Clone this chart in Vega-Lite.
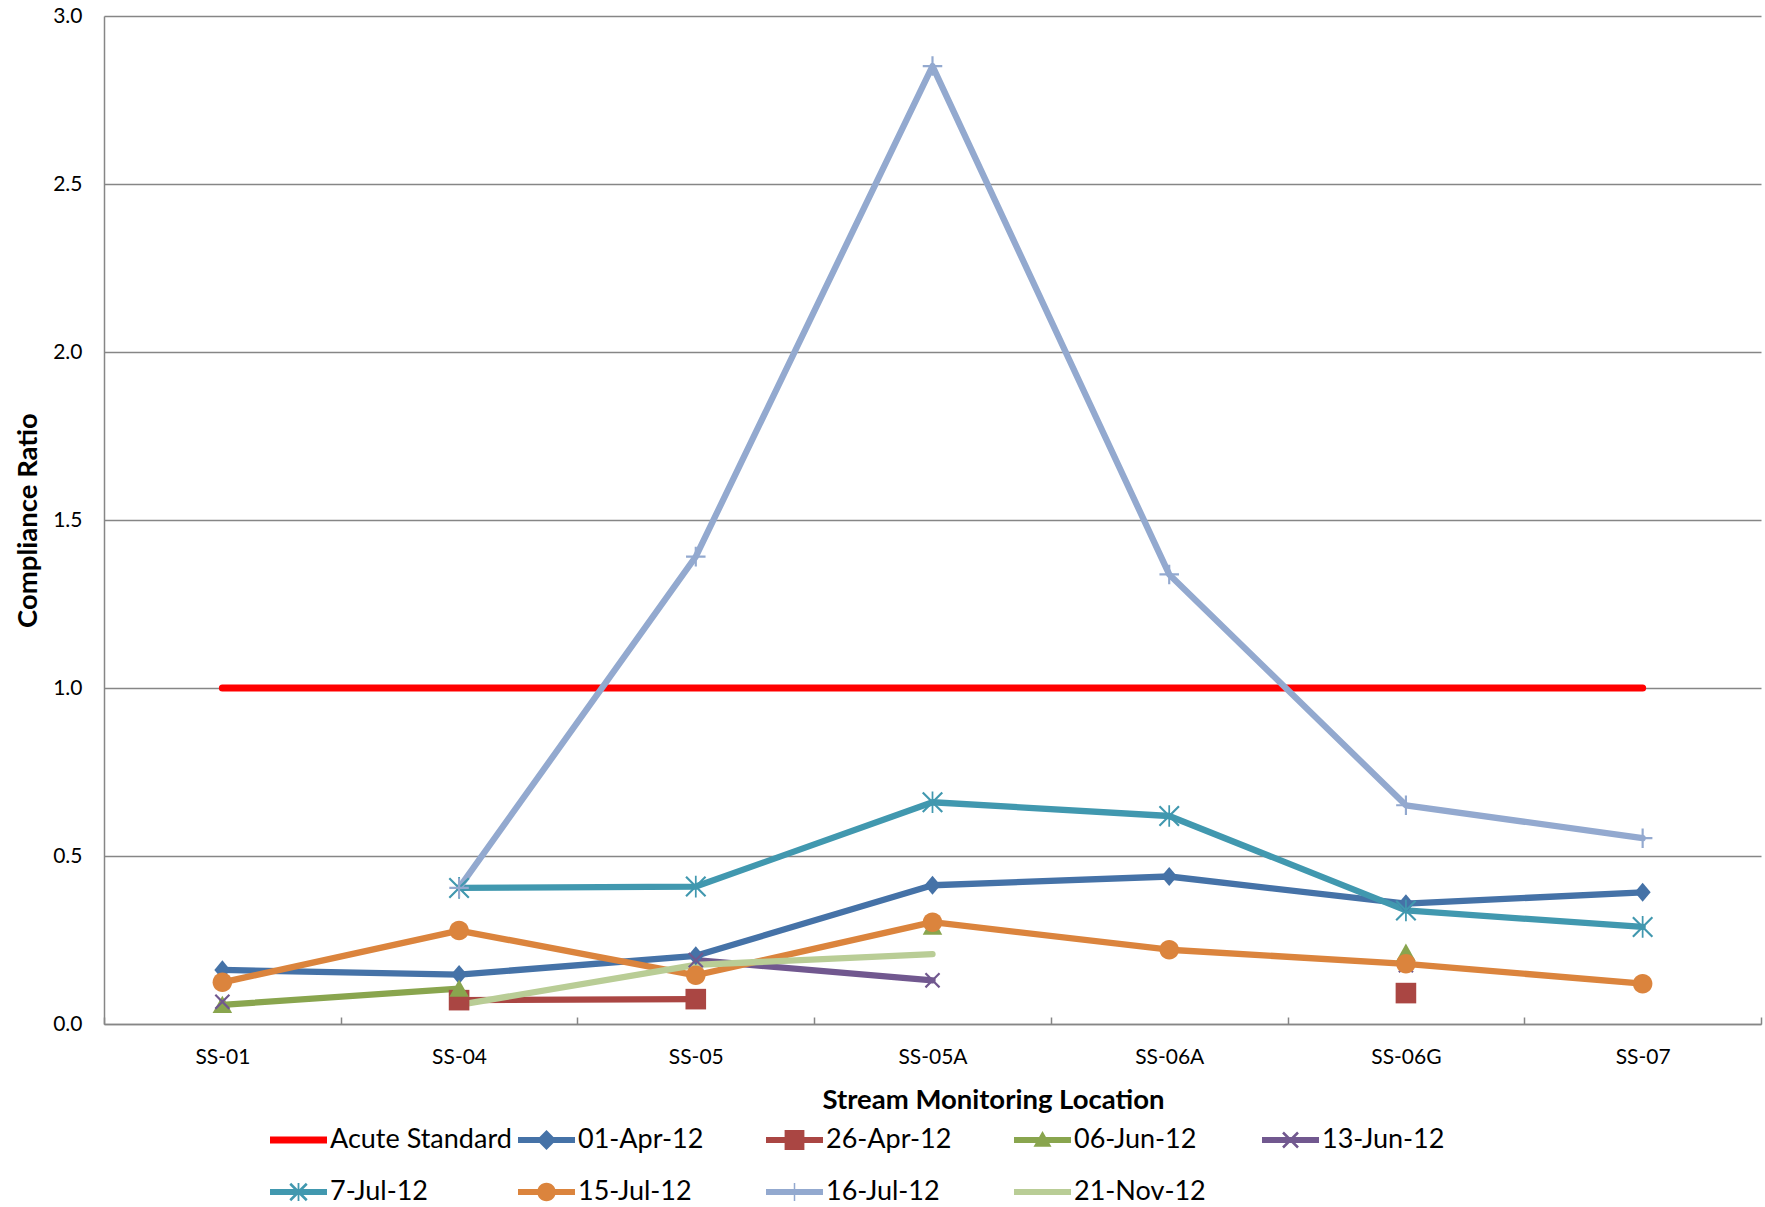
{
  "$schema": "https://vega.github.io/schema/vega-lite/v6.json",
  "width": 1657,
  "height": 1008,
  "autosize": {"type": "none"},
  "padding": {"left": 104, "top": 16, "right": 4, "bottom": 183},
  "background": "white",
  "config": {
    "view": {"stroke": null},
    "font": "Lato"
  },
  "data": {
    "values": [
      {"series": "Acute Standard", "location": "SS-01", "value": 1.0},
      {"series": "Acute Standard", "location": "SS-04", "value": 1.0},
      {"series": "Acute Standard", "location": "SS-05", "value": 1.0},
      {"series": "Acute Standard", "location": "SS-05A", "value": 1.0},
      {"series": "Acute Standard", "location": "SS-06A", "value": 1.0},
      {"series": "Acute Standard", "location": "SS-06G", "value": 1.0},
      {"series": "Acute Standard", "location": "SS-07", "value": 1.0},
      {"series": "01-Apr-12", "location": "SS-01", "value": 0.161},
      {"series": "01-Apr-12", "location": "SS-04", "value": 0.147},
      {"series": "01-Apr-12", "location": "SS-05", "value": 0.203},
      {"series": "01-Apr-12", "location": "SS-05A", "value": 0.413},
      {"series": "01-Apr-12", "location": "SS-06A", "value": 0.439},
      {"series": "01-Apr-12", "location": "SS-06G", "value": 0.358},
      {"series": "01-Apr-12", "location": "SS-07", "value": 0.392},
      {"series": "26-Apr-12", "location": "SS-01", "value": null},
      {"series": "26-Apr-12", "location": "SS-04", "value": 0.071},
      {"series": "26-Apr-12", "location": "SS-05", "value": 0.074},
      {"series": "26-Apr-12", "location": "SS-05A", "value": null},
      {"series": "26-Apr-12", "location": "SS-06A", "value": null},
      {"series": "26-Apr-12", "location": "SS-06G", "value": 0.092},
      {"series": "26-Apr-12", "location": "SS-07", "value": null},
      {"series": "06-Jun-12", "location": "SS-01", "value": 0.057},
      {"series": "06-Jun-12", "location": "SS-04", "value": 0.105},
      {"series": "06-Jun-12", "location": "SS-05", "value": null},
      {"series": "06-Jun-12", "location": "SS-05A", "value": 0.29},
      {"series": "06-Jun-12", "location": "SS-06A", "value": null},
      {"series": "06-Jun-12", "location": "SS-06G", "value": 0.212},
      {"series": "06-Jun-12", "location": "SS-07", "value": null},
      {"series": "13-Jun-12", "location": "SS-01", "value": 0.066},
      {"series": "13-Jun-12", "location": "SS-04", "value": null},
      {"series": "13-Jun-12", "location": "SS-05", "value": 0.19},
      {"series": "13-Jun-12", "location": "SS-05A", "value": 0.13},
      {"series": "13-Jun-12", "location": "SS-06A", "value": null},
      {"series": "13-Jun-12", "location": "SS-06G", "value": 0.175},
      {"series": "13-Jun-12", "location": "SS-07", "value": null},
      {"series": "7-Jul-12", "location": "SS-01", "value": null},
      {"series": "7-Jul-12", "location": "SS-04", "value": 0.405},
      {"series": "7-Jul-12", "location": "SS-05", "value": 0.409},
      {"series": "7-Jul-12", "location": "SS-05A", "value": 0.66},
      {"series": "7-Jul-12", "location": "SS-06A", "value": 0.619},
      {"series": "7-Jul-12", "location": "SS-06G", "value": 0.338},
      {"series": "7-Jul-12", "location": "SS-07", "value": 0.289},
      {"series": "15-Jul-12", "location": "SS-01", "value": 0.124},
      {"series": "15-Jul-12", "location": "SS-04", "value": 0.278},
      {"series": "15-Jul-12", "location": "SS-05", "value": 0.145},
      {"series": "15-Jul-12", "location": "SS-05A", "value": 0.303},
      {"series": "15-Jul-12", "location": "SS-06A", "value": 0.221},
      {"series": "15-Jul-12", "location": "SS-06G", "value": 0.179},
      {"series": "15-Jul-12", "location": "SS-07", "value": 0.12},
      {"series": "16-Jul-12", "location": "SS-01", "value": null},
      {"series": "16-Jul-12", "location": "SS-04", "value": 0.405},
      {"series": "16-Jul-12", "location": "SS-05", "value": 1.391},
      {"series": "16-Jul-12", "location": "SS-05A", "value": 2.851},
      {"series": "16-Jul-12", "location": "SS-06A", "value": 1.338},
      {"series": "16-Jul-12", "location": "SS-06G", "value": 0.651},
      {"series": "16-Jul-12", "location": "SS-07", "value": 0.553},
      {"series": "21-Nov-12", "location": "SS-01", "value": null},
      {"series": "21-Nov-12", "location": "SS-04", "value": 0.057},
      {"series": "21-Nov-12", "location": "SS-05", "value": 0.176},
      {"series": "21-Nov-12", "location": "SS-05A", "value": 0.208},
      {"series": "21-Nov-12", "location": "SS-06A", "value": null},
      {"series": "21-Nov-12", "location": "SS-06G", "value": null},
      {"series": "21-Nov-12", "location": "SS-07", "value": null}
    ]
  },
  "encoding": {
    "x": {
      "field": "location",
      "type": "nominal",
      "sort": null,
      "scale": {
        "type": "band",
        "domain": ["SS-01", "SS-04", "SS-05", "SS-05A", "SS-06A", "SS-06G", "SS-07"],
        "paddingInner": 0,
        "paddingOuter": 0
      },
      "axis": {
        "title": "Stream Monitoring Location",
        "titleFont": "Lato",
        "titleFontSize": 27.5,
        "titleFontWeight": "bold",
        "titleColor": "black",
        "titleX": 889,
        "titleY": 76,
        "titleBaseline": "middle",
        "titleAlign": "center",
        "labelFont": "Lato",
        "labelFontSize": 21,
        "labelColor": "black",
        "labelAngle": 0,
        "labelPadding": 29,
        "tickBand": "extent",
        "ticks": true,
        "tickSize": -7,
        "tickColor": "#868686",
        "tickWidth": 1.5,
        "domainColor": "#868686",
        "domainWidth": 1.5,
        "grid": false
      }
    },
    "y": {
      "field": "value",
      "type": "quantitative",
      "scale": {"domain": [0, 3], "nice": false, "zero": true},
      "axis": {
        "title": "Compliance Ratio",
        "titleFont": "Lato",
        "titleFontSize": 27.5,
        "titleFontWeight": "bold",
        "titleColor": "black",
        "titlePadding": 10,
        "labelFont": "Lato",
        "labelFontSize": 21,
        "labelColor": "black",
        "labelPadding": 22,
        "values": [0, 0.5, 1, 1.5, 2, 2.5, 3],
        "format": ".1f",
        "ticks": false,
        "tickSize": 0,
        "domainColor": "#868686",
        "domainWidth": 1.5,
        "grid": true,
        "gridColor": "#868686",
        "gridWidth": 1.5
      }
    },
    "color": {
      "field": "series",
      "type": "nominal",
      "sort": null,
      "scale": {
        "domain": ["Acute Standard", "01-Apr-12", "26-Apr-12", "06-Jun-12", "13-Jun-12", "7-Jul-12", "15-Jul-12", "16-Jul-12", "21-Nov-12"],
        "range": ["#FF0000", "#4572A7", "#AA4643", "#89A54E", "#71588F", "#4198AF", "#DB843D", "#93A9CF", "#B9CD96"]
      },
      "legend": {
        "orient": "none",
        "legendX": 179.5,
        "legendY": 1109,
        "direction": "horizontal",
        "columns": 5,
        "gridAlign": "all",
        "columnPadding": 5,
        "rowPadding": 24,
        "padding": 0,
        "title": null,
        "symbolSize": 900,
        "labelOffset": 16.5,
        "labelFont": "Lato",
        "labelFontSize": 27,
        "labelColor": "black",
        "labelLimit": 400,
        "encode": {
          "symbols": {
            "update": {
              "shape": {"signal": "datum.value === 'Acute Standard' ? 'M-1.9,-0.24H1.9V0.24H-1.9Z' : datum.value === '01-Apr-12' ? 'M-1.9,-0.2H1.9V0.2H-1.9Z M0,-0.66L0.66,0L0,0.66L-0.66,0Z' : datum.value === '26-Apr-12' ? 'M-1.9,-0.2H1.9V0.2H-1.9Z M-0.66,-0.66H0.66V0.66H-0.66Z' : datum.value === '06-Jun-12' ? 'M-1.9,-0.2H1.9V0.2H-1.9Z M0,-0.6L0.6,0.45L-0.6,0.45Z' : datum.value === '13-Jun-12' ? 'M-1.9,-0.2H1.9V0.2H-1.9Z M-0.56,-0.44L-0.44,-0.56L0.56,0.44L0.44,0.56Z M-0.56,0.44L0.44,-0.56L0.56,-0.44L-0.44,0.56Z' : datum.value === '7-Jul-12' ? 'M-1.9,-0.2H1.9V0.2H-1.9Z M-0.61,-0.49L-0.49,-0.61L0.61,0.49L0.49,0.61Z M-0.61,0.49L0.49,-0.61L0.61,-0.49L-0.49,0.61Z M-0.06,-0.6H0.06V0.6H-0.06Z' : datum.value === '15-Jul-12' ? 'M-1.9,-0.2H1.9V0.2H-1.9Z M-0.62,0A0.62,0.62 0 1,1 0.62,0A0.62,0.62 0 1,1 -0.62,0Z' : datum.value === '16-Jul-12' ? 'M-1.9,-0.2H1.9V0.2H-1.9Z M-0.05,-0.6H0.05V0.6H-0.05Z' : 'M-1.9,-0.2H1.9V0.2H-1.9Z'"},
              "fill": {"signal": "scale('color', datum.value)"},
              "stroke": {"value": "transparent"},
              "strokeWidth": {"value": 0},
              "opacity": {"value": 1}
            }
          }
        }
      }
    }
  },
  "layer": [
    {
      "mark": {
        "type": "line",
        "strokeCap": "round",
        "strokeJoin": "round",
        "invalid": "break-paths-show-domains"
      },
      "encoding": {
        "strokeWidth": {
          "condition": {"test": "datum.series === 'Acute Standard'", "value": 7},
          "value": 6.3
        }
      }
    },
    {
      "transform": [
        {"filter": "datum.value != null && datum.series !== 'Acute Standard' && datum.series !== '21-Nov-12'"}
      ],
      "mark": {"type": "point", "filled": true, "size": 470, "opacity": 1, "strokeWidth": 0},
      "encoding": {
        "shape": {
          "field": "series",
          "type": "nominal",
          "scale": {
            "domain": ["01-Apr-12", "26-Apr-12", "06-Jun-12", "13-Jun-12", "7-Jul-12", "15-Jul-12", "16-Jul-12"],
            "range": [
              "M0,-0.88L0.74,0L0,0.88L-0.74,0Z",
              "M-0.95,-0.95H0.95V0.95H-0.95Z",
              "M0,-0.85L0.9,0.75L-0.9,0.75Z",
              "M-0.72,-0.58L-0.58,-0.72L0.72,0.58L0.58,0.72Z M-0.72,0.58L0.58,-0.72L0.72,-0.58L-0.58,0.72Z",
              "M-0.97,-0.83L-0.83,-0.97L0.97,0.83L0.83,0.97Z M-0.97,0.83L0.83,-0.97L0.97,-0.83L-0.83,0.97Z M-0.08,-1H0.08V1H-0.08Z",
              "M-0.9,0A0.9,0.9 0 1,1 0.9,0A0.9,0.9 0 1,1 -0.9,0Z",
              "M-0.9,-0.1H0.9V0.1H-0.9Z M-0.1,-0.9H0.1V0.9H-0.1Z"
            ]
          },
          "legend": null
        }
      }
    }
  ]
}
